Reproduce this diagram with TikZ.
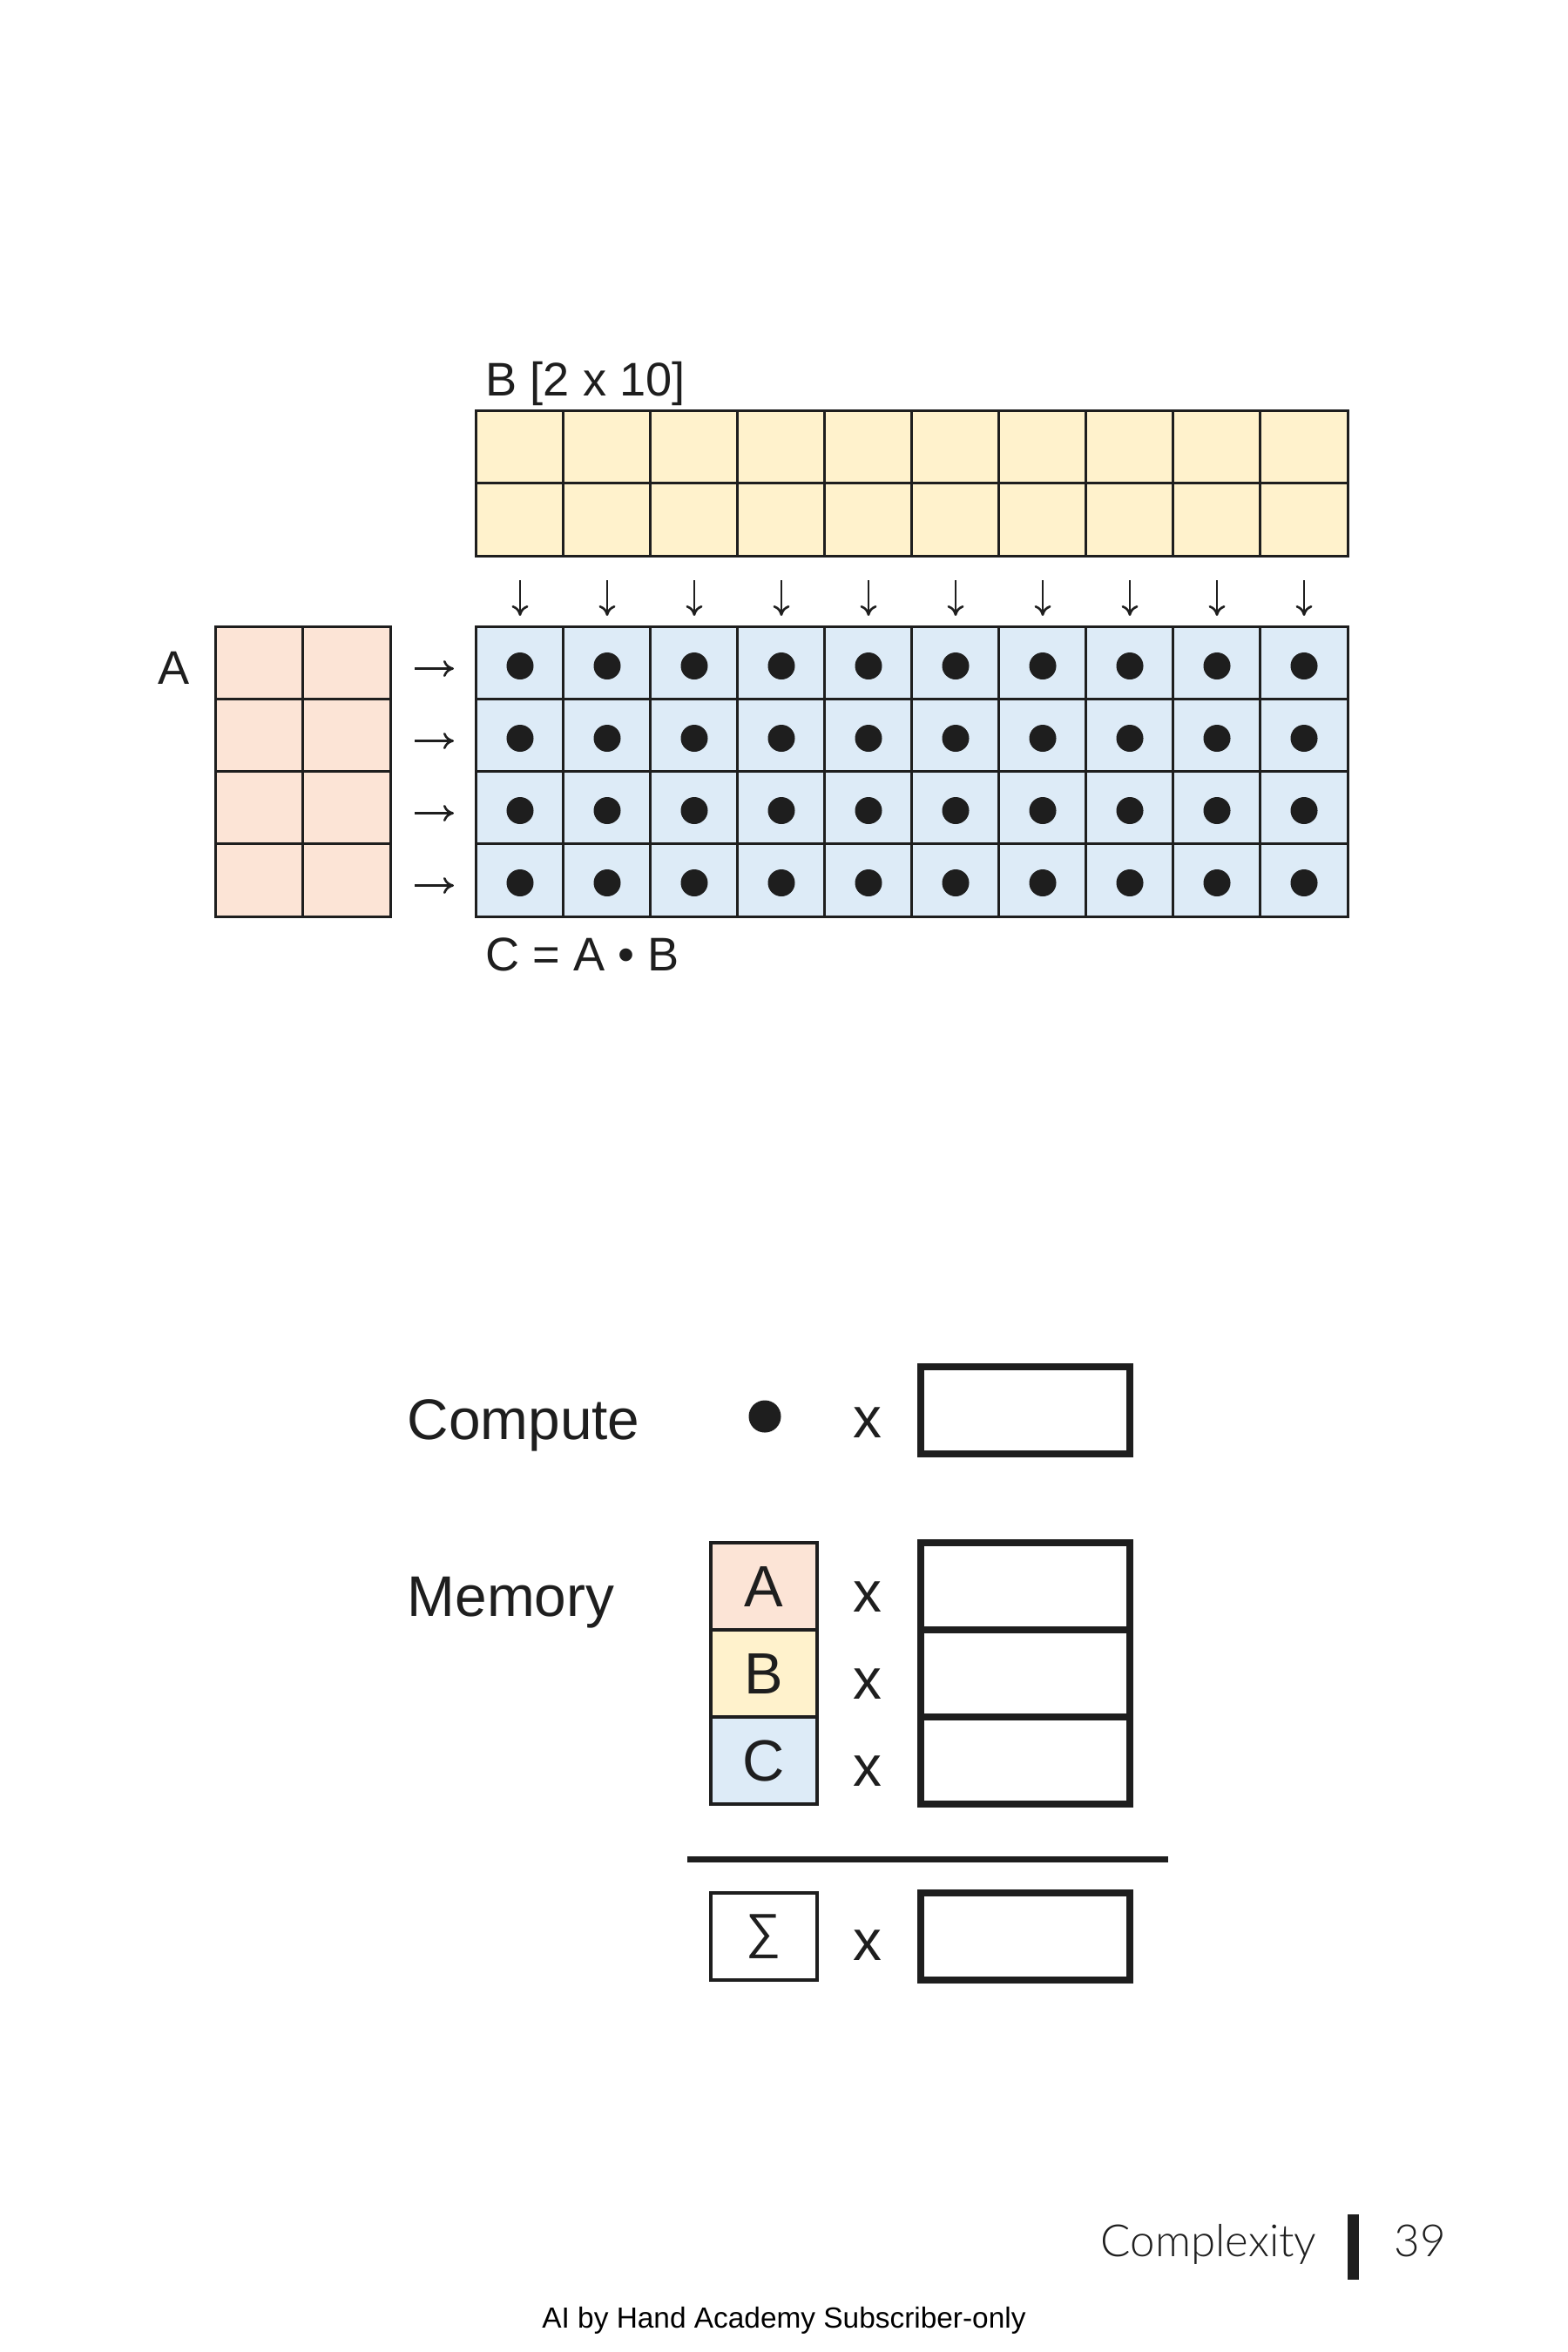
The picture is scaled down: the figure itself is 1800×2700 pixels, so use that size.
\documentclass[tikz,border=0pt]{standalone}
\usepackage{fontspec}
\setmainfont{Liberation Sans}
\newfontfamily\pagefont{Lato Light}
\usetikzlibrary{arrows.meta}
\definecolor{CellA}{HTML}{FCE4D6}
\definecolor{CellB}{HTML}{FFF2CC}
\definecolor{CellC}{HTML}{DDEBF7}
\definecolor{Ink}{HTML}{1E1E1E}
\tikzset{>={To[length=0.12cm,width=0.19cm]}}
\tikzset{
  cell/.style={draw=Ink, line width=0.85pt, minimum width=1cm, minimum height=0.83cm, inner sep=0pt, outer sep=0pt},
  dot/.style={circle, fill=Ink, inner sep=0pt, minimum size=0.31cm},
  lbl/.style={text=Ink, inner sep=0pt, font=\fontsize{15.4}{18}\selectfont},
  big/.style={text=Ink, inner sep=0pt, font=\fontsize{18.7}{22}\selectfont},
  slot/.style={draw=Ink, line width=2.3pt, minimum width=2.4cm, minimum height=1cm, inner sep=0pt, outer sep=0pt},
  tag/.style={draw=Ink, line width=1pt, minimum width=1.22cm, minimum height=1cm, inner sep=0pt, outer sep=0pt, text=Ink, font=\fontsize{19}{22}\selectfont},
  flow/.style={->, Ink, line width=0.75pt},
}

\begin{document}
\begin{tikzpicture}[x=0.01cm, y=-0.01cm]
\path[use as bounding box, fill=white] (0,0) rectangle (1800,2700);
% B on top
\foreach \c in {1,...,10}
  \foreach \r in {1,2}
    \node[cell, fill=CellB] (B-\r-\c) at ({497+100*\c},{430.5+83*\r}) {};
% A on the left
\foreach \c in {1,2}
  \foreach \r in {1,...,4}
    \node[cell, fill=CellA] (A-\r-\c) at ({198+100*\c},{678.5+83*\r}) {};
% C, one dot per cell
\foreach \c in {1,...,10}
  \foreach \r in {1,...,4}{
    \node[cell, fill=CellC] (C-\r-\c) at ({497+100*\c},{678.5+83*\r}) {};
    \node[dot] (d-\r-\c) at ([yshift=-0.03cm]C-\r-\c.center) {};
  }
\foreach \c in {1,...,10}
  \draw[flow, shorten <=0.28cm, shorten >=0.13cm] (B-2-\c.south) -- (C-1-\c.north);
\foreach \r in {1,...,4}
  \draw[flow, shorten <=0.28cm, shorten >=0.26cm] ([yshift=-0.06cm]A-\r-2.east) -- ([yshift=-0.06cm]C-\r-1.west);
\node[lbl, anchor=base west] (Bname) at (557,454) {B [2 x 10]};
\node[lbl, anchor=base] (Aname) at (200,785) {A};
\node[lbl, anchor=base west] (Cname) at (557,1114) {C = A • B};

% compute
\node[big, anchor=base west] (compute) at (467,1652) {Compute};
\node[dot, minimum size=0.37cm] (op) at (878,1626) {};
\node[big, anchor=base] (xop) at (996,1650) {x};
\node[slot] (nop) at (1177,1619) {};

% memory
\node[big, anchor=base west] (memory) at (467,1855) {Memory};
\node[tag, fill=CellA] (mA) at (877,1821) {A};
\node[tag, fill=CellB] (mB) at (877,1921) {B};
\node[tag, fill=CellC] (mC) at (877,2021) {C};
\node[big, anchor=base] (xA) at (996,1850) {x};
\node[big, anchor=base] (xB) at (996,1950) {x};
\node[big, anchor=base] (xC) at (996,2050) {x};
\node[slot] (nA) at (1177,1821) {};
\node[slot] (nB) at (1177,1921) {};
\node[slot] (nC) at (1177,2021) {};
\draw[Ink, line width=2pt] (789,2134) -- (1341,2134);
\node[tag, font=\fontsize{16}{19}\selectfont] (mSum) at (877,2223) {∑};
\node[big, anchor=base] (xSum) at (996,2250) {x};
\node[slot] (nSum) at (1177,2223) {};

% page footer
\node[anchor=base east, inner sep=0pt, text=Ink, font=\pagefont\fontsize{14.5}{17}\selectfont] (chapter) at (1512,2590) {Complexity};
\node[fill=Ink, inner sep=0pt, minimum width=0.13cm, minimum height=0.75cm] (bar) at (1553.5,2579.5) {};
\node[anchor=base west, inner sep=0pt, text=Ink, font=\pagefont\fontsize{14.5}{17}\selectfont] (page) at (1600,2590) {39};
\node[anchor=base, inner sep=0pt, text=black, font=\fontsize{9.5}{11}\selectfont] (credit) at (900,2672) {AI by Hand Academy Subscriber-only};
\end{tikzpicture}
\end{document}
